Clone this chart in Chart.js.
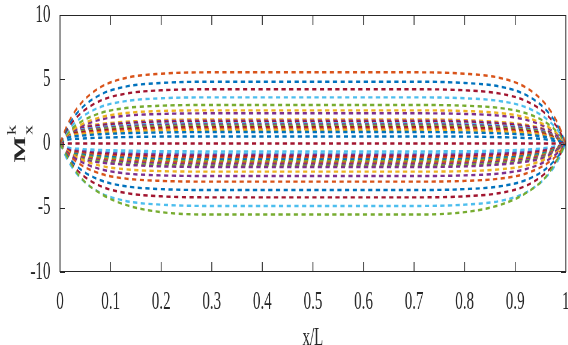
<!DOCTYPE html>
<html>
<head>
<meta charset="utf-8">
<script src="https://cdn.jsdelivr.net/npm/chart.js@4.4.1/dist/chart.umd.min.js"></script>
<style>
  html, body { margin: 0; padding: 0; background: #fff; overflow: hidden; }
  /* the figure is drawn wide and squeezed horizontally, like the narrow serif glyphs */
  #wrap { width: 947px; height: 345px; transform: scaleX(0.6); transform-origin: 0 0; }
</style>
</head>
<body>
<div id="wrap"><canvas id="momentChart" width="947" height="345"></canvas></div>
<script>
// positions along the beam (x/L)
const xPos = [0, 0.015, 0.04, 0.08, 0.13, 0.2, 0.3, 0.7, 0.8, 0.87, 0.92, 0.96, 0.985, 1]

// moment modes M_x^k, upper family
const orangeTop = [0, 1.50, 3.05, 4.38, 5.10, 5.43, 5.54, 5.54, 5.43, 5.10, 4.38, 3.05, 1.50, 0]
const blueTop = [0, 1.30, 2.65, 3.80, 4.43, 4.71, 4.81, 4.81, 4.71, 4.43, 3.80, 2.65, 1.30, 0]
const redTop = [0, 1.14, 2.32, 3.33, 3.88, 4.14, 4.22, 4.22, 4.14, 3.88, 3.33, 2.32, 1.14, 0]
const cyanTop = [0, 0.97, 1.97, 2.84, 3.30, 3.52, 3.59, 3.59, 3.52, 3.30, 2.84, 1.97, 0.97, 0]
const greenTop = [0, 0.81, 1.65, 2.37, 2.76, 2.94, 3.00, 3.00, 2.94, 2.76, 2.37, 1.65, 0.81, 0]
const yellowTop = [0, 0.70, 1.42, 2.04, 2.37, 2.53, 2.58, 2.58, 2.53, 2.37, 2.04, 1.42, 0.70, 0]
const purpleTop = [0, 0.63, 1.29, 1.86, 2.16, 2.30, 2.35, 2.35, 2.30, 2.16, 1.86, 1.29, 0.63, 0]

// the packed band just above zero
const bandA1 = [0, 0.95, 1.27, 1.52, 1.69, 1.82, 1.88, 1.88, 1.82, 1.67, 1.46, 1.08, 0.48, 0]
const bandA2 = [0, 0.90, 1.21, 1.44, 1.60, 1.73, 1.78, 1.78, 1.73, 1.58, 1.39, 1.03, 0.45, 0]
const bandA3 = [0, 0.85, 1.14, 1.36, 1.51, 1.63, 1.68, 1.68, 1.63, 1.50, 1.31, 0.97, 0.43, 0]
const bandA4 = [0, 0.80, 1.07, 1.28, 1.42, 1.54, 1.58, 1.58, 1.54, 1.41, 1.23, 0.91, 0.40, 0]
const bandA5 = [0, 0.75, 1.01, 1.20, 1.34, 1.44, 1.49, 1.49, 1.44, 1.32, 1.16, 0.86, 0.38, 0]
const bandA6 = [0, 0.70, 0.94, 1.12, 1.25, 1.34, 1.39, 1.39, 1.34, 1.23, 1.08, 0.80, 0.35, 0]
const bandA7 = [0, 0.64, 0.86, 1.02, 1.14, 1.23, 1.27, 1.27, 1.23, 1.13, 0.99, 0.73, 0.32, 0]
const bandA8 = [0, 0.58, 0.77, 0.92, 1.02, 1.10, 1.14, 1.14, 1.10, 1.01, 0.89, 0.66, 0.29, 0]
const bandA9 = [0, 0.53, 0.71, 0.85, 0.94, 1.02, 1.05, 1.05, 1.02, 0.93, 0.82, 0.60, 0.27, 0]
const blueMid1 = [0, 0.45, 0.60, 0.72, 0.80, 0.86, 0.89, 0.89, 0.86, 0.79, 0.69, 0.51, 0.23, 0]
const blueMid2 = [0, 0.28, 0.38, 0.45, 0.50, 0.54, 0.55, 0.55, 0.54, 0.49, 0.43, 0.32, 0.14, 0]
const redZero = [0, 0, 0, 0, 0, 0, 0, 0, 0, 0, 0, 0, 0, 0]
const cyanMid = [0, -0.31, -0.42, -0.50, -0.55, -0.60, -0.61, -0.61, -0.60, -0.55, -0.48, -0.35, -0.16, 0]

// the packed band just below zero
const bandB1 = [0, -0.39, -0.52, -0.62, -0.69, -0.75, -0.77, -0.77, -0.75, -0.69, -0.60, -0.44, -0.20, 0]
const bandB2 = [0, -0.45, -0.60, -0.72, -0.80, -0.86, -0.89, -0.89, -0.86, -0.79, -0.69, -0.51, -0.23, 0]
const bandB3 = [0, -0.51, -0.68, -0.82, -0.91, -0.98, -1.01, -1.01, -0.98, -0.90, -0.79, -0.58, -0.26, 0]
const bandB4 = [0, -0.57, -0.76, -0.91, -1.01, -1.09, -1.13, -1.13, -1.09, -1.00, -0.88, -0.65, -0.29, 0]
const bandB5 = [0, -0.63, -0.84, -1.01, -1.12, -1.21, -1.25, -1.25, -1.21, -1.11, -0.97, -0.72, -0.32, 0]
const bandB6 = [0, -0.69, -0.92, -1.10, -1.23, -1.32, -1.37, -1.37, -1.32, -1.21, -1.06, -0.79, -0.35, 0]
const bandB7 = [0, -0.75, -1.01, -1.20, -1.34, -1.44, -1.49, -1.49, -1.44, -1.32, -1.16, -0.86, -0.38, 0]
const bandB8 = [0, -0.81, -1.09, -1.30, -1.44, -1.56, -1.60, -1.60, -1.56, -1.43, -1.25, -0.92, -0.41, 0]
const bandB9 = [0, -0.87, -1.17, -1.39, -1.55, -1.67, -1.72, -1.72, -1.67, -1.53, -1.34, -0.99, -0.44, 0]
const bandB10 = [0, -0.93, -1.24, -1.48, -1.65, -1.78, -1.83, -1.83, -1.78, -1.63, -1.42, -1.05, -0.46, 0]

// lower family
const yellowBot = [0, -0.59, -1.20, -1.73, -2.01, -2.15, -2.19, -2.19, -2.15, -2.01, -1.73, -1.20, -0.59, 0]
const purpleBot = [0, -0.68, -1.39, -2.00, -2.33, -2.48, -2.53, -2.53, -2.48, -2.33, -2.00, -1.39, -0.68, 0]
const orangeBot = [0, -0.80, -1.63, -2.35, -2.73, -2.91, -2.97, -2.97, -2.91, -2.73, -2.35, -1.63, -0.80, 0]
const blueBot = [0, -0.98, -1.99, -2.86, -3.33, -3.55, -3.62, -3.62, -3.55, -3.33, -2.86, -1.99, -0.98, 0]
const redBot = [0, -1.13, -2.30, -3.31, -3.85, -4.11, -4.19, -4.19, -4.11, -3.85, -3.31, -2.30, -1.13, 0]
const cyanBot = [0, -1.31, -2.67, -3.84, -4.47, -4.76, -4.86, -4.86, -4.76, -4.47, -3.84, -2.67, -1.31, 0]
const greenBot = [0, -1.11, -2.61, -3.89, -4.78, -5.34, -5.53, -5.53, -5.34, -4.78, -3.89, -2.61, -1.11, 0]

const xTicks = [0, 0.1, 0.2, 0.3, 0.4, 0.5, 0.6, 0.7, 0.8, 0.9, 1]
const yTicks = [-10, -5, 0, 5, 10]

// matlab default line colours
const C = {
  blue: '#0072BD', orange: '#D95319', yellow: '#EDB120', purple: '#7E2F8E',
  green: '#77AC30', cyan: '#4DBEEE', red: '#A2142F'
}

const curves = [
  [greenBot, C.green], [cyanBot, C.cyan], [redBot, C.red], [blueBot, C.blue],
  [orangeBot, C.orange], [purpleBot, C.purple], [yellowBot, C.yellow],
  [orangeTop, C.orange], [blueTop, C.blue], [redTop, C.red], [cyanTop, C.cyan],
  [greenTop, C.green], [yellowTop, C.yellow], [purpleTop, C.purple],
  [bandB10, C.purple], [bandB9, C.green], [bandB8, C.purple], [bandB7, C.orange],
  [bandB6, C.green], [bandB5, C.blue], [bandB4, C.orange], [bandB3, C.red],
  [bandB2, C.purple], [bandB1, C.cyan], [cyanMid, C.cyan], [redZero, C.red],
  [blueMid2, C.blue], [blueMid1, C.blue],
  [bandA9, C.yellow], [bandA8, C.orange], [bandA7, C.red], [bandA6, C.green],
  [bandA5, C.purple], [bandA4, C.cyan], [bandA3, C.red], [bandA2, C.purple], [bandA1, C.yellow]
]

const datasets = curves.map(function (c) {
  return {
    data: xPos.map(function (x, i) { return { x: x, y: c[0][i] } }),
    borderColor: c[1],
    borderWidth: 2.4,
    borderDash: [7, 5.8],
    pointRadius: 0,
    cubicInterpolationMode: 'monotone',
    fill: false
  }
})

const serif = "'Liberation Serif', 'Times New Roman', serif"
const ink = '#262626'

// white page, then the boxed axes with inward ticks on all four sides
const boxPlugin = {
  id: 'box',
  beforeDraw: function (chart) {
    const ctx = chart.ctx
    ctx.save()
    ctx.fillStyle = '#fff'
    ctx.fillRect(0, 0, chart.width, chart.height)
    ctx.restore()
  },
  afterDraw: function (chart) {
    const ctx = chart.ctx
    const a = chart.chartArea
    const xs = chart.scales.x
    const ys = chart.scales.y
    ctx.save()
    ctx.strokeStyle = ink
    ctx.lineWidth = 1
    ctx.beginPath()
    ctx.moveTo(a.left, a.top + 0.5); ctx.lineTo(a.right, a.top + 0.5)
    ctx.moveTo(a.left, a.bottom - 0.5); ctx.lineTo(a.right, a.bottom - 0.5)
    ctx.stroke()
    ctx.lineWidth = 1.4
    ctx.beginPath()
    ctx.moveTo(a.left, a.top); ctx.lineTo(a.left, a.bottom)
    ctx.moveTo(a.right, a.top); ctx.lineTo(a.right, a.bottom)
    xTicks.forEach(function (v) {
      const px = xs.getPixelForValue(v)
      ctx.moveTo(px, a.bottom); ctx.lineTo(px, a.bottom - 10)
      ctx.moveTo(px, a.top); ctx.lineTo(px, a.top + 10)
    })
    ctx.stroke()
    ctx.lineWidth = 1
    ctx.beginPath()
    yTicks.forEach(function (v) {
      const py = Math.round(ys.getPixelForValue(v)) + 0.5
      ctx.moveTo(a.left, py); ctx.lineTo(a.left + 8, py)
      ctx.moveTo(a.right, py); ctx.lineTo(a.right - 8, py)
    })
    ctx.stroke()

    // y axis title M_x^k, rotated
    ctx.translate(41.7, a.top + (a.bottom - a.top) / 2 + 19)
    ctx.rotate(-Math.PI / 2)
    ctx.fillStyle = ink
    ctx.textBaseline = 'alphabetic'
    ctx.textAlign = 'left'
    ctx.font = 'bold 28px ' + serif
    ctx.fillText('M', 0, 0)
    const w = ctx.measureText('M').width
    ctx.font = '20px ' + serif
    ctx.fillText('k', w + 1, -16)
    ctx.fillText('x', w + 1, 12)
    ctx.restore()
  }
}

new Chart(document.getElementById('momentChart'), {
  type: 'line',
  data: { datasets: datasets },
  options: {
    responsive: false,
    animation: false,
    devicePixelRatio: 1,
    layout: { padding: { top: 15, right: 4, left: 0, bottom: 0 } },
    plugins: { legend: { display: false }, tooltip: { enabled: false } },
    scales: {
      x: {
        type: 'linear',
        min: 0,
        max: 1,
        afterBuildTicks: function (scale) {
          scale.ticks = xTicks.map(function (v) { return { value: v } })
        },
        afterFit: function (scale) {
          scale.height = 73
          scale.paddingLeft = 0
          scale.paddingRight = 0
        },
        grid: { display: false },
        border: { display: false },
        ticks: {
          color: ink, padding: 7, maxRotation: 0, autoSkip: false,
          font: { family: serif, size: 25 },
          callback: function (v) { return String(v) }
        },
        title: { display: true, text: 'x/L', color: ink, padding: 0, font: { family: serif, size: 25, lineHeight: 0.55 } }
      },
      y: {
        min: -10,
        max: 10,
        afterBuildTicks: function (scale) {
          scale.ticks = yTicks.map(function (v) { return { value: v } })
        },
        afterFit: function (scale) {
          scale.width = 100
          scale.paddingTop = 0
          scale.paddingBottom = 0
        },
        grid: { display: false },
        border: { display: false },
        ticks: { color: ink, padding: 8, font: { family: serif, size: 25 } }
      }
    }
  },
  plugins: [boxPlugin]
})
</script>
</body>
</html>
